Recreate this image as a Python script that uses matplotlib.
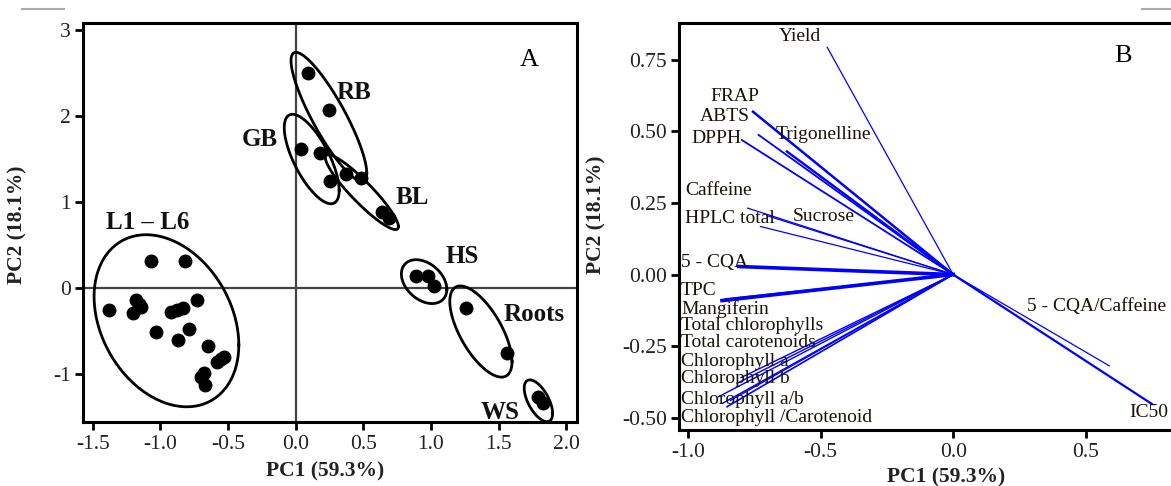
import numpy as np
import matplotlib
matplotlib.use("Agg")
import matplotlib.pyplot as plt
from matplotlib.lines import Line2D


plt.rcParams["font.family"] = ["Liberation Serif", "DejaVu Serif"]
plt.rcParams["axes.unicode_minus"] = False


# ---------------------------------------
# Panel A : PCA scores
# ---------------------------------------

group_names = ["L1 \u2013 L6", "GB", "RB", "BL", "HS", "Roots", "WS"]

score_pc1 = [
    [-1.38, -1.07, -0.82, -1.18, -1.14, -1.20, -1.16, -0.92, -0.88, -0.83,
     -0.73, -1.03, -0.79, -0.87, -0.65, -0.53, -0.58, -0.55, -0.68, -0.70, -0.67],
    [0.04, 0.18, 0.255],
    [0.095, 0.25, 0.48],
    [0.37, 0.64, 0.69],
    [0.89, 0.98, 1.02],
    [1.26, 1.56],
    [1.79, 1.83],
]

score_pc2 = [
    [-0.26, 0.31, 0.31, -0.14, -0.22, -0.29, -0.18, -0.28, -0.26, -0.23,
     -0.14, -0.51, -0.48, -0.60, -0.67, -0.80, -0.86, -0.82, -0.99, -1.03, -1.13],
    [1.62, 1.57, 1.24],
    [2.50, 2.07, 1.28],
    [1.33, 0.89, 0.81],
    [0.14, 0.14, 0.02],
    [-0.23, -0.76],
    [-1.27, -1.34],
]

# ellipse: centre, half width, half height, tilt (correlation)
ell_cx = [-0.955, 0.119, 0.246, 0.49, 0.95, 1.37, 1.795]
ell_cy = [-0.38, 1.50, 1.99, 1.115, 0.075, -0.505, -1.31]
ell_hx = [0.535, 0.203, 0.28, 0.27, 0.168, 0.23, 0.105]
ell_hy = [1.0, 0.52, 0.75, 0.435, 0.255, 0.53, 0.243]
ell_rho = [-0.28, -0.70, -0.87, -0.92, -0.35, -0.66, -0.60]

group_label_x = [-1.09, -0.265, 0.43, 0.866, 1.23, 1.76, 1.51]
group_label_y = [0.76, 1.73, 2.27, 1.05, 0.37, -0.31, -1.45]


# ---------------------------------------
# Panel B : loadings
# ---------------------------------------

loading_names = [
    "Yield", "FRAP", "ABTS", "DPPH", "Trigonelline", "Caffeine",
    "HPLC total", "Sucrose", "5 - CQA", "TPC", "Mangiferin",
    "Total chlorophylls", "Total carotenoids", "Chlorophyll a",
    "Chlorophyll b", "Chlorophyll a/b", "Chlorophyll /Carotenoid",
    "5 - CQA/Caffeine", "IC50",
]

loading_pc1 = [-0.475, -0.755, -0.734, -0.797, -0.627, -0.775,
               -0.727, -0.70, -0.809, -0.872, -0.86,
               -0.80, -0.815, -0.84, -0.885, -0.853, -0.87,
               0.589, 0.749]

loading_pc2 = [0.794, 0.569, 0.488, 0.470, 0.430, 0.232,
               0.168, 0.205, 0.028, -0.091, -0.085,
               -0.36, -0.38, -0.44, -0.427, -0.462, -0.45,
               -0.319, -0.452]

line_widths = [0.9, 1.8, 1.3, 1.3, 1.7, 0.9,
               0.9, 0.9, 2.6, 2.6, 1.0,
               1.0, 1.0, 1.0, 1.0, 1.2, 1.0,
               0.9, 1.6]

text_x = [-0.579, -0.824, -0.863, -0.894, -0.670, -1.012,
          -1.012, -0.489, -1.026, -1.026, -1.026,
          -1.026, -1.026, -1.026, -1.026, -1.026, -1.026,
          0.279, 0.663]
text_y = [0.833, 0.623, 0.551, 0.474, 0.489, 0.295,
          0.196, 0.204, 0.041, -0.055, -0.12,
          -0.178, -0.239, -0.303, -0.363, -0.437, -0.498,
          -0.113, -0.483]
text_ha = ["center", "center", "center", "center", "left", "left",
           "left", "center", "left", "left", "left",
           "left", "left", "left", "left", "left", "left",
           "left", "left"]


fig = plt.figure(figsize=(11.71, 4.86), dpi=100)

tick_col = "#222222"


def style_axes(ax):
    for s in ax.spines.values():
        s.set_linewidth(2.2)
        s.set_color("black")
    ax.tick_params(direction="out", length=6, width=2, labelsize=15.5,
                   labelcolor=tick_col, pad=3)


# ---------------------------------------
# A
# ---------------------------------------

ax1 = fig.add_axes([0.0711, 0.1311, 0.4216, 0.821])
style_axes(ax1)

ax1.axhline(0, color="#444444", lw=1.6, zorder=1)
ax1.axvline(0, color="#444444", lw=1.6, zorder=1)

t = np.linspace(0, 2 * np.pi, 300)

for i in range(len(group_names)):
    ax1.plot(score_pc1[i], score_pc2[i], "o", color="black",
             markersize=9, zorder=3)

    ex = ell_cx[i] + ell_hx[i] * np.cos(t)
    ey = ell_cy[i] + ell_hy[i] * (
        ell_rho[i] * np.cos(t) + np.sqrt(1 - ell_rho[i] ** 2) * np.sin(t)
    )
    ax1.plot(ex, ey, color="black", lw=2, zorder=2)

    ax1.text(group_label_x[i], group_label_y[i], group_names[i],
             fontsize=18, fontweight="bold", ha="center", va="center",
             color="#111111")

ax1.text(1.73, 2.65, "A", fontsize=19, ha="center", va="center")

ax1.set_xlim(-1.57, 2.08)
ax1.set_ylim(-1.56, 3.078)
ax1.set_xticks(np.arange(-1.5, 2.01, 0.5))
ax1.set_xticklabels(["%.1f" % v for v in np.arange(-1.5, 2.01, 0.5)])
ax1.set_yticks([-1, 0, 1, 2, 3])

ax1.set_xlabel("PC1 (59.3%)", fontsize=15.5, fontweight="bold",
               color=tick_col)
ax1.set_ylabel("PC2 (18.1%)", fontsize=15.5, fontweight="bold",
               color=tick_col)
ax1.xaxis.set_label_coords(0.49, -0.097)
ax1.xaxis.label.set_va("top")
ax1.yaxis.set_label_coords(-0.112, 0.494)


# ---------------------------------------
# B
# ---------------------------------------

ax2 = fig.add_axes([0.5801, 0.1142, 0.4263, 0.8379])
style_axes(ax2)

for i in range(len(loading_names)):
    ax2.plot([0, loading_pc1[i]], [0, loading_pc2[i]],
             color="#0000ff", lw=line_widths[i], zorder=2)
    ax2.text(text_x[i], text_y[i], loading_names[i], fontsize=14,
             ha=text_ha[i], va="center", color="#1a1208", zorder=3)

ax2.text(0.642, 0.763, "B", fontsize=19, ha="center", va="center")

ax2.set_xlim(-1.033, 0.85)
ax2.set_ylim(-0.545, 0.878)
ax2.set_xticks([-1.0, -0.5, 0.0, 0.5])
ax2.set_xticklabels(["-1.0", "-0.5", "0.0", "0.5"])
ax2.set_yticks([-0.5, -0.25, 0.0, 0.25, 0.5, 0.75])
ax2.set_yticklabels(["-0.50", "-0.25", "0.00", "0.25", "0.50", "0.75"])

ax2.set_xlabel("PC1 (59.3%)", fontsize=15.5, fontweight="bold",
               color=tick_col)
ax2.set_ylabel("PC2 (18.1%)", fontsize=15.5, fontweight="bold",
               color=tick_col)
ax2.xaxis.set_label_coords(0.534, -0.092)
ax2.xaxis.label.set_va("top")
ax2.yaxis.set_label_coords(-0.145, 0.529)


# small grey rules at the top of the page
fig.add_artist(Line2D([22 / 1171, 64 / 1171], [1 - 9 / 486] * 2,
                      color="#aaaaaa", lw=1.5))
fig.add_artist(Line2D([1142 / 1171, 1.0], [1 - 9 / 486] * 2,
                      color="#aaaaaa", lw=1.5))

fig.savefig("out.png", dpi=100)
